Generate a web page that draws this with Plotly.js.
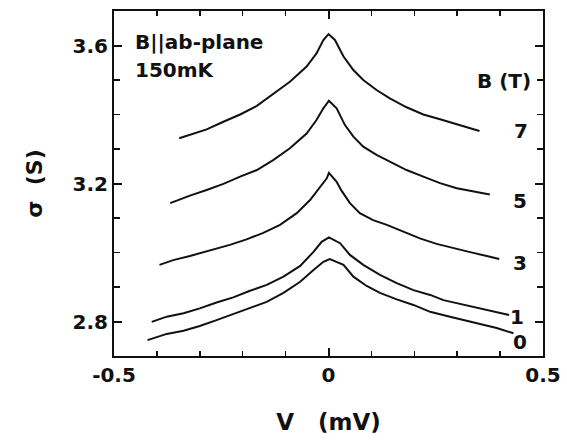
<!DOCTYPE html>
<html>
<head>
<meta charset="utf-8">
<script src="https://cdn.plot.ly/plotly-3.0.1.min.js"></script>
<style>html,body{margin:0;padding:0;background:#fff;}#chart{width:567px;height:443px;}</style>
</head>
<body>
<div id="chart"></div>
<script>
// Field values B (T)
const fieldLabels = ["7", "5", "3", "1", "0"];

// B = 7 T
const V7 = [-0.348,-0.315,-0.284,-0.245,-0.206,-0.167,-0.129,-0.090,-0.051,-0.028,-0.012,0.000,0.015,0.035,0.058,0.081,0.112,0.143,0.182,0.221,0.260,0.299,0.330,0.352];
const S7 = [3.331,3.345,3.357,3.379,3.400,3.425,3.459,3.495,3.539,3.577,3.616,3.633,3.616,3.568,3.529,3.500,3.471,3.447,3.421,3.400,3.386,3.372,3.360,3.352];

// B = 5 T
const V5 = [-0.369,-0.323,-0.284,-0.245,-0.206,-0.167,-0.129,-0.090,-0.051,-0.028,-0.012,0.001,0.019,0.038,0.058,0.081,0.112,0.143,0.182,0.221,0.260,0.299,0.338,0.376];
const S5 = [3.143,3.165,3.181,3.199,3.220,3.239,3.268,3.302,3.345,3.384,3.418,3.440,3.418,3.370,3.336,3.307,3.283,3.263,3.239,3.220,3.201,3.186,3.176,3.168];

// B = 3 T
const V3 = [-0.394,-0.362,-0.323,-0.300,-0.269,-0.230,-0.191,-0.152,-0.113,-0.074,-0.043,-0.020,-0.004,0.001,0.019,0.030,0.050,0.073,0.104,0.136,0.174,0.213,0.252,0.291,0.330,0.369,0.398];
const S3 = [2.964,2.978,2.990,2.998,3.007,3.022,3.038,3.057,3.080,3.114,3.152,3.191,3.215,3.231,3.205,3.180,3.143,3.114,3.094,3.080,3.060,3.041,3.025,3.012,3.001,2.990,2.981];

// B = 1 T
const V1 = [-0.412,-0.377,-0.338,-0.300,-0.261,-0.222,-0.183,-0.144,-0.105,-0.066,-0.035,-0.016,0.001,0.027,0.050,0.081,0.120,0.159,0.198,0.237,0.268,0.307,0.345,0.384,0.421];
const S1 = [2.799,2.814,2.824,2.838,2.855,2.870,2.889,2.906,2.930,2.961,3.002,3.031,3.044,3.027,2.993,2.964,2.935,2.911,2.891,2.877,2.862,2.851,2.840,2.830,2.819];

// B = 0 T
const V0 = [-0.422,-0.377,-0.338,-0.300,-0.261,-0.222,-0.183,-0.144,-0.105,-0.066,-0.035,-0.012,0.003,0.035,0.058,0.089,0.120,0.159,0.198,0.237,0.276,0.314,0.353,0.392,0.431];
const S0 = [2.746,2.764,2.773,2.787,2.804,2.821,2.838,2.857,2.883,2.915,2.949,2.973,2.981,2.964,2.930,2.903,2.883,2.864,2.848,2.828,2.816,2.804,2.793,2.781,2.766];

const xTickVals = [-0.5, 0, 0.5];
const xTickText = ["-0.5", "0", "0.5"];
const yTickVals = [2.8, 3.2, 3.6];
const yTickText = ["2.8", "3.2", "3.6"];

const series = [[V7,S7],[V5,S5],[V3,S3],[V1,S1],[V0,S0]];
const traces = series.map((s, i) => ({
  x: s[0], y: s[1], type: 'scatter', mode: 'lines',
  line: {color: '#111', width: 2},
  name: fieldLabels[i] + ' T', showlegend: false, hoverinfo: 'skip'
}));

const F = 'DejaVu Sans';
const labelPos = [[0.449, 3.352],[0.446, 3.148],[0.446, 2.970],[0.439, 2.813],[0.446, 2.741]];
const annotations = fieldLabels.map((t, i) => ({
  x: labelPos[i][0], y: labelPos[i][1], xref: 'x', yref: 'y', text: t, showarrow: false,
  xanchor: 'center', yanchor: 'middle', font: {family: F, size: 20, weight: 'bold', color: '#111'}
}));
annotations.push({x: 0.342, y: 3.497, xref:'x', yref:'y', text: 'B (T)', showarrow:false,
  xanchor:'left', yanchor:'middle', font:{family:F, size:20, weight:'bold', color:'#111'}});
annotations.push({x: -0.455, y: 3.609, xref:'x', yref:'y', text: 'B||ab-plane', showarrow:false,
  xanchor:'left', yanchor:'middle', font:{family:F, size:20, weight:'bold', color:'#111'}});
annotations.push({x: -0.455, y: 3.529, xref:'x', yref:'y', text: '150mK', showarrow:false,
  xanchor:'left', yanchor:'middle', font:{family:F, size:20, weight:'bold', color:'#111'}});

const layout = {
  width: 567, height: 443,
  margin: {l: 114, r: 24, t: 11, b: 87},
  paper_bgcolor: '#fff', plot_bgcolor: '#fff',
  showlegend: false,
  font: {family: F, color: '#111'},
  xaxis: {
    range: [-0.5, 0.5], tickvals: xTickVals, ticktext: xTickText,
    ticks: 'inside', ticklen: 8, tickwidth: 2, tickcolor: '#111',
    minor: {dtick: 0.1, ticks: 'inside', ticklen: 5, tickwidth: 1.5, tickcolor: '#111', showgrid: false},
    showline: true, linewidth: 2, linecolor: '#111', mirror: 'ticks',
    showgrid: false, zeroline: false,
    tickfont: {family: F, size: 20, weight: 'bold', color: '#111'},
    title: {text: 'V\u00a0\u00a0\u00a0(mV)', font: {family: F, size: 23, weight: 'bold', color: '#111'}, standoff: 28}
  },
  yaxis: {
    range: [2.7, 3.7], tickvals: yTickVals, ticktext: yTickText,
    ticks: 'inside', ticklen: 8, tickwidth: 2, tickcolor: '#111',
    minor: {dtick: 0.1, ticks: 'inside', ticklen: 6, tickwidth: 1.5, tickcolor: '#111', showgrid: false},
    showline: true, linewidth: 2, linecolor: '#111', mirror: 'ticks',
    showgrid: false, zeroline: false,
    tickfont: {family: F, size: 20, weight: 'bold', color: '#111'},
    title: {text: '\u03c3\u00a0\u00a0(S)', font: {family: F, size: 22, weight: 'bold', color: '#111'}, standoff: 24}
  },
  annotations: annotations
};

Plotly.newPlot('chart', traces, layout, {displayModeBar: false, staticPlot: true});
</script>
</body>
</html>
